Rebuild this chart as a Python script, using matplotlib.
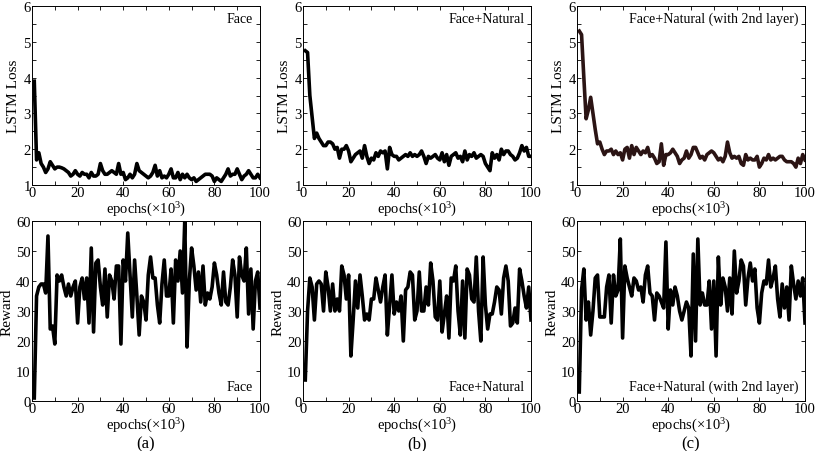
import numpy as np
import matplotlib
matplotlib.use('Agg')
import matplotlib.pyplot as plt
from matplotlib.ticker import MultipleLocator

plt.rcParams['font.family'] = ['Liberation Serif', 'DejaVu Serif']
plt.rcParams['mathtext.fontset'] = 'stix'

epochs = np.arange(1, 101)

# LSTM loss
loss_face = [3.9, 1.7, 1.9, 1.6, 1.5, 1.35, 1.45, 1.65, 1.55, 1.45,
             1.5, 1.5, 1.48, 1.45, 1.4, 1.35, 1.25, 1.3, 1.4, 1.3,
             1.25, 1.35, 1.3, 1.3, 1.2, 1.35, 1.25, 1.25, 1.3, 1.6,
             1.4, 1.3, 1.3, 1.35, 1.4, 1.35, 1.3, 1.6, 1.3, 1.35,
             1.15, 1.2, 1.3, 1.2, 1.3, 1.6, 1.4, 1.35, 1.3, 1.25,
             1.2, 1.25, 1.35, 1.55, 1.25, 1.4, 1.2, 1.25, 1.2, 1.3,
             1.45, 1.2, 1.2, 1.35, 1.15, 1.3, 1.2, 1.3, 1.2, 1.15,
             1.2, 1.1, 1.15, 1.2, 1.25, 1.3, 1.3, 1.3, 1.25, 1.1,
             1.2, 1.15, 1.1, 1.2, 1.3, 1.45, 1.25, 1.3, 1.3, 1.45,
             1.3, 1.15, 1.25, 1.3, 1.4, 1.3, 1.2, 1.2, 1.3, 1.2]
loss_fn = [4.75, 4.7, 3.5, 2.9, 2.3, 2.45, 2.3, 2.2, 2.1, 2.1,
           2.2, 2.2, 2.15, 2.0, 2.05, 1.75, 2.0, 2.0, 2.1, 1.95,
           1.65, 1.75, 1.85, 1.9, 1.95, 1.75, 2.1, 1.8, 1.6, 1.75,
           1.7, 1.9, 1.8, 1.95, 1.9, 1.95, 1.45, 2.05, 1.85, 1.8,
           1.8, 1.7, 1.75, 1.8, 1.85, 1.8, 1.9, 1.8, 1.85, 1.8,
           1.85, 1.95, 1.8, 1.6, 1.8, 1.75, 1.8, 1.85, 1.75, 1.7,
           1.9, 1.65, 1.85, 1.55, 1.8, 1.85, 1.9, 1.75, 1.8, 1.65,
           1.95, 1.7, 1.85, 1.8, 1.9, 1.75, 1.8, 1.85, 1.8, 1.6,
           1.5, 1.4, 1.9, 1.75, 1.85, 1.7, 2.0, 1.85, 1.95, 1.95,
           1.85, 1.8, 1.7, 1.75, 1.9, 2.1, 1.95, 2.05, 1.8, 1.8]
loss_fn2 = [5.3, 5.2, 4.0, 2.85, 3.1, 3.45, 3.0, 2.55, 2.15, 2.2,
            2.0, 1.85, 1.95, 1.95, 2.0, 1.85, 1.95, 1.85, 1.9, 1.7,
            2.0, 2.05, 1.75, 2.1, 1.85, 2.05, 1.95, 1.85, 1.95, 1.9,
            2.05, 1.8, 1.85, 1.75, 1.6, 1.65, 2.15, 1.55, 1.85, 1.85,
            1.9, 2.0, 1.9, 1.8, 1.6, 1.7, 1.75, 1.95, 1.75, 1.85,
            2.05, 2.05, 1.9, 1.75, 1.8, 1.7, 1.85, 1.9, 1.95, 1.9,
            1.8, 1.7, 1.75, 1.65, 1.8, 2.2, 1.9, 1.75, 1.8, 1.75,
            1.8, 1.6, 1.55, 1.85, 1.7, 1.75, 1.7, 1.7, 1.8, 1.5,
            1.6, 1.75, 1.7, 1.85, 1.7, 1.75, 1.7, 1.75, 1.8, 1.8,
            1.7, 1.65, 1.65, 1.65, 1.6, 1.5, 1.75, 1.6, 1.85, 1.7]

# reward, bottom row
rew_face = [1, 35, 38, 39, 39, 36, 55, 24, 25, 19,
            42, 40, 42, 38, 35, 39, 35, 38, 40, 26,
            38, 41, 34, 41, 26, 51, 23, 46, 47, 38,
            32, 44, 28, 42, 40, 34, 45, 45, 19, 47,
            40, 56, 42, 28, 47, 35, 22, 35, 33, 27,
            42, 48, 41, 41, 32, 26, 39, 47, 35, 35,
            44, 26, 47, 40, 50, 36, 60, 18, 40, 51,
            45, 37, 43, 33, 45, 32, 36, 34, 38, 46,
            42, 36, 32, 43, 33, 32, 38, 47, 42, 28,
            48, 42, 40, 51, 29, 44, 24, 40, 43, 31]
rew_fn = [7, 30, 41, 38, 27, 39, 40, 39, 30, 43,
          38, 30, 39, 30, 34, 30, 45, 42, 34, 42,
          15, 27, 40, 31, 42, 35, 27, 29, 27, 34,
          34, 41, 37, 33, 38, 42, 22, 32, 42, 29,
          33, 30, 35, 20, 37, 38, 43, 42, 27, 30,
          43, 30, 30, 38, 32, 46, 40, 28, 27, 40,
          23, 29, 35, 21, 41, 40, 45, 30, 22, 40,
          21, 44, 42, 34, 33, 48, 30, 20, 48, 32,
          24, 29, 29, 33, 38, 37, 29, 41, 45, 40,
          25, 26, 31, 26, 44, 40, 35, 31, 38, 27]
rew_fn2 = [3, 37, 44, 27, 33, 22, 30, 41, 42, 28,
           28, 28, 38, 42, 26, 42, 35, 37, 54, 21,
           45, 41, 38, 35, 41, 40, 37, 38, 33, 42,
           45, 36, 35, 27, 36, 35, 33, 31, 53, 24,
           37, 32, 38, 35, 30, 27, 30, 33, 31, 15,
           49, 20, 54, 32, 36, 32, 32, 40, 24, 40,
           15, 48, 32, 41, 38, 30, 41, 29, 50, 36,
           40, 47, 45, 32, 41, 46, 40, 44, 31, 26,
           36, 40, 39, 47, 38, 41, 45, 34, 28, 39,
           31, 38, 27, 45, 39, 34, 40, 35, 41, 26]

names = ['Face', 'Face+Natural', 'Face+Natural (with 2nd layer)']
losses = [loss_face, loss_fn, loss_fn2]
rewards = [rew_face, rew_fn, rew_fn2]
loss_colors = ['black', 'black', '#2b1414']
panel = ['(a)', '(b)', '(c)']

fig = plt.figure(figsize=(8.17, 4.52), dpi=100)
lefts = [32/817, 303/817, 577/817]
w = 228/817

def style(ax):
    ax.set_xlim(0, 100)
    ax.xaxis.set_major_locator(MultipleLocator(20))
    ax.xaxis.set_minor_locator(MultipleLocator(10))
    ax.tick_params(which='both', direction='in', top=True, right=True,
                   length=3, width=0.6, labelsize=10.5, pad=1)
    for s in ax.spines.values():
        s.set_linewidth(0.7)
    ax.set_xlabel('epochs$\\mathregular{(\\times10^3)}$', fontsize=10.5,
                  labelpad=0)

for k in range(3):
    ax = fig.add_axes([lefts[k], 1 - 186/452, w, 179/452])
    ax.plot(epochs, losses[k], color=loss_colors[k], lw=2.6)
    ax.set_ylim(1, 6)
    ax.yaxis.set_major_locator(MultipleLocator(1))
    ax.yaxis.set_minor_locator(MultipleLocator(0.5))
    ax.set_ylabel('LSTM Loss', fontsize=11, labelpad=2)
    style(ax)
    ax.text(0.97, 0.93, names[k], transform=ax.transAxes, ha='right',
            va='center', fontsize=10)

    ax = fig.add_axes([lefts[k], 1 - 402/452, w, 180/452])
    ax.plot(epochs, rewards[k], color='black', lw=2.6)
    ax.set_ylim(0, 60)
    ax.yaxis.set_major_locator(MultipleLocator(10))
    ax.set_ylabel('Reward', fontsize=11, labelpad=2)
    style(ax)
    ax.text(0.97, 0.08, names[k], transform=ax.transAxes, ha='right',
            va='center', fontsize=10)
    fig.text(lefts[k] + w/2, 1 - 444/452, panel[k], ha='center',
             va='center', fontsize=12)

plt.savefig('out.png', dpi=100)
